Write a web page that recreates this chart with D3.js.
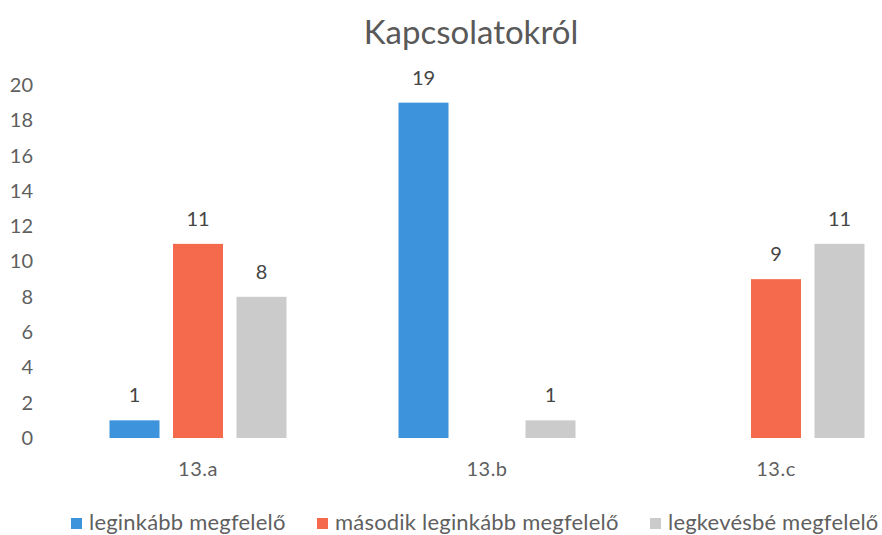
<!DOCTYPE html>
<html lang="hu">
<head>
<meta charset="UTF-8">
<title>Kapcsolatokról</title>
<script src="https://cdnjs.cloudflare.com/ajax/libs/d3/7.8.5/d3.min.js"></script>
<style>
  body { margin: 0; background: #fff; }
  text { font-family: Lato, "Open Sans", sans-serif; }
</style>
</head>
<body>
<div id="chart"></div>
<script>
    // data
    var categories = ["13.a", "13.b", "13.c"];
    var seriesNames = ["leginkább megfelelő", "második leginkább megfelelő", "legkevésbé megfelelő"];
    var bestFit = [1, 19, null];
    var secondFit = [11, null, 9];
    var leastFit = [8, 1, 11];
    var yTicks = [0, 2, 4, 6, 8, 10, 12, 14, 16, 18, 20];
    var colors = ["#3d93dc", "#f56a4c", "#cbcbcb"];

    var seriesValues = [bestFit, secondFit, leastFit];

    var width = 882, height = 535;

    var svg = d3.select("#chart")
        .append("svg")
        .attr("width", width)
        .attr("height", height);

    var x = d3.scaleBand()
        .domain(categories)
        .range([53.5, 920.5])
        .padding(0);

    var x1 = d3.scaleBand()
        .domain(seriesNames)
        .range([-88.5, 88.5])
        .paddingInner(13.5 / 63.5)
        .paddingOuter(0);

    var y = d3.scaleLinear()
        .domain([0, 20])
        .range([438, 85]);

    // title
    svg.append("text")
        .attr("x", 471)
        .attr("y", 44)
        .attr("text-anchor", "middle")
        .style("font-size", "33px")
        .style("fill", "#595959")
        .text("Kapcsolatokról");

    // y axis, labels only
    var yAxis = d3.axisLeft(y)
        .tickValues(yTicks)
        .tickSize(0)
        .tickPadding(0);

    var gy = svg.append("g")
        .attr("transform", "translate(33,0)")
        .call(yAxis);
    gy.select(".domain").remove();
    gy.selectAll("text")
        .style("font-size", "20px")
        .style("font-family", "Lato, 'Open Sans', sans-serif")
        .style("fill", "#5f5f5f");

    // x axis labels
    var xAxis = d3.axisBottom(x)
        .tickSize(0)
        .tickPadding(0);
    var gx = svg.append("g")
        .attr("transform", "translate(0,462)")
        .call(xAxis);
    gx.select(".domain").remove();
    gx.selectAll("text")
        .style("font-size", "20px")
        .style("letter-spacing", "0.5px")
        .style("font-family", "Lato, 'Open Sans', sans-serif")
        .style("fill", "#5f5f5f");

    // bars
    var rows = [];
    seriesValues.forEach(function (vals, s) {
        vals.forEach(function (v, i) {
            if (v !== null) rows.push({ cat: categories[i], series: seriesNames[s], s: s, value: v });
        });
    });

    function barX(d) { return x(d.cat) + x.bandwidth() / 2 + x1(d.series); }

    svg.append("g").selectAll("rect")
        .data(rows)
        .enter().append("rect")
        .attr("x", barX)
        .attr("y", function (d) { return y(d.value); })
        .attr("width", x1.bandwidth())
        .attr("height", function (d) { return y(0) - y(d.value); })
        .attr("fill", function (d) { return colors[d.s]; });

    svg.append("g").selectAll("text")
        .data(rows)
        .enter().append("text")
        .attr("x", function (d) { return barX(d) + x1.bandwidth() / 2; })
        .attr("y", function (d) { return y(d.value) - 18; })
        .attr("text-anchor", "middle")
        .style("font-size", "20px")
        .style("fill", "#454545")
        .text(function (d) { return d.value; });

    // legend
    var legendX = [71, 317, 650];
    var legend = svg.append("g").selectAll("g")
        .data(seriesNames)
        .enter().append("g")
        .attr("transform", function (d, i) { return "translate(" + legendX[i] + ",530)"; });

    legend.append("rect")
        .attr("x", 0)
        .attr("y", -12)
        .attr("width", 11)
        .attr("height", 11)
        .attr("fill", function (d, i) { return colors[i]; });

    legend.append("text")
        .attr("x", 18)
        .attr("y", 0)
        .style("font-size", "22px")
        .style("letter-spacing", "0.2px")
        .style("fill", "#5f5f5f")
        .text(function (d) { return d; });
</script>
</body>
</html>
